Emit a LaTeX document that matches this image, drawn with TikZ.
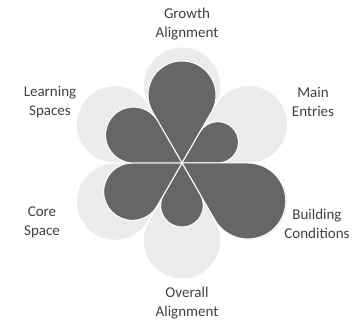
\documentclass[tikz,border=0pt]{standalone}
\usepackage{fontspec}
\setmainfont{Carlito}
\usepackage{tikz}

\begin{document}
\begin{tikzpicture}[x=1pt,y=1pt,
    back/.style={fill=black!8,draw=white,line width=1pt},
    front/.style={fill=black!60,draw=white,line width=1pt},
    label/.style={align=center,text=black!75,font=\fontsize{15}{19}\selectfont}]
      \useasboundingbox (-182,-157) rectangle (171,163);

      % light petals, full length
      \fill[back] (0,0) -- (60:66.97) arc[start angle=-30,end angle=210,radius=38.67] -- cycle;
      \fill[back] (0,0) -- (0:66.97) arc[start angle=-90,end angle=150,radius=38.67] -- cycle;
      \fill[back] (0,0) -- (-60:66.97) arc[start angle=-150,end angle=90,radius=38.67] -- cycle;
      \fill[back] (0,0) -- (-120:66.97) arc[start angle=-210,end angle=30,radius=38.67] -- cycle;
      \fill[back] (0,0) -- (180:66.97) arc[start angle=90,end angle=330,radius=38.67] -- cycle;
      \fill[back] (0,0) -- (120:66.97) arc[start angle=30,end angle=270,radius=38.67] -- cycle;

      % dark petals, scores
      \fill[front] (0,0) -- (60:58.9) arc[start angle=-30,end angle=210,radius=34] -- cycle;
      \fill[front] (0,0) -- (0:35.8) arc[start angle=-90,end angle=150,radius=20.67] -- cycle;
      \fill[front] (0,0) -- (-60:65.8) arc[start angle=-150,end angle=90,radius=38] -- cycle;
      \fill[front] (0,0) -- (-120:36.95) arc[start angle=-210,end angle=30,radius=21.33] -- cycle;
      \fill[front] (0,0) -- (180:49.65) arc[start angle=90,end angle=330,radius=28.67] -- cycle;
      \fill[front] (0,0) -- (120:48.5) arc[start angle=30,end angle=270,radius=28] -- cycle;

      \node[label] (growth) at (5,139) {Growth\\Alignment};
      \node[label] (main) at (131,61) {Main\\Entries};
      \node[label] (building) at (135,-60.5) {Building\\Conditions};
      \node[label] (overall) at (5,-140) {Overall\\Alignment};
      \node[label] (core) at (-140,-59) {Core\\Space};
      \node[label] (learning) at (-132,60.5) {Learning\\Spaces};
\end{tikzpicture}
\end{document}
